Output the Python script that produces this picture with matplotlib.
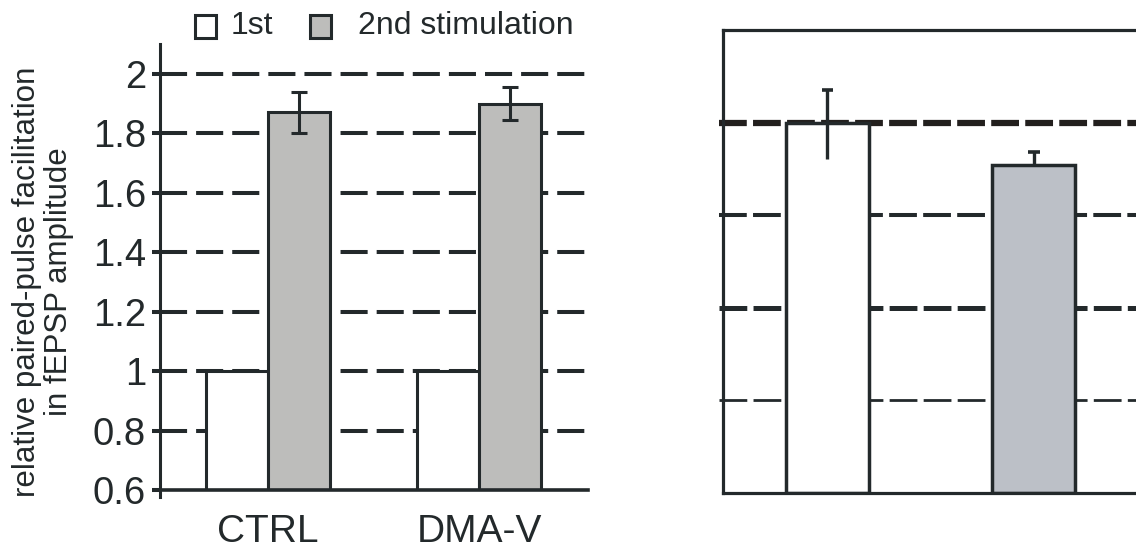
import numpy as np
import matplotlib
matplotlib.use("Agg")
import matplotlib.pyplot as plt
from matplotlib.patches import Rectangle

plt.rcParams['font.family'] = ['Liberation Sans', 'DejaVu Sans']
plt.rcParams['lines.scale_dashes'] = False

# ---- data ----
groups = ["CTRL", "DMA-V"]
first_stim = [1.0, 1.0]
second_stim = [1.87, 1.90]
second_err = [0.07, 0.055]
y_ticks = [0.6, 0.8, 1.0, 1.2, 1.4, 1.6, 1.8, 2.0]
y_ticklabels = ["0.6", "0.8", "1", "1.2", "1.4", "1.6", "1.8", "2"]
legend_labels = ["1st", "2nd stimulation"]
ylabel_lines = ["relative paired-pulse facilitation", "in fEPSP amplitude"]

right_values = [4.0, 3.54]
right_err_low = [0.39, 0.0]
right_err_high = [0.35, 0.14]
right_grid = [1, 2, 3, 4]
right_grid_lw = [2.0, 3.6, 2.9, 4.5]

DARK = "#23292b"
GRAY_L = "#bdbdbb"
GRAY_R = "#bcc0c7"

W, H = 1136, 556
fig = plt.figure(figsize=(W / 100, H / 100), dpi=100)

# ---------------- left panel ----------------
axL = fig.add_axes([160 / W, 1 - 490 / H, 428 / W, 440 / H])
axL.set_xlim(-0.512, 1.517)
axL.set_ylim(0.6, 2.08)
x = np.arange(len(groups))
bw = 0.294
base = 0.6
for yv in y_ticks[1:]:
    axL.axhline(yv, color=DARK, lw=2.9, linestyle=(0, (19.5, 6.5)), zorder=1)
axL.bar(x - bw / 2, np.array(first_stim) - base, bw, bottom=base, color="white",
        edgecolor=DARK, lw=2.2, zorder=2)
axL.bar(x + bw / 2, np.array(second_stim) - base, bw, bottom=base, color=GRAY_L,
        edgecolor=DARK, lw=2.2, zorder=2)
axL.errorbar(x + bw / 2, second_stim, yerr=second_err, fmt="none", ecolor=DARK,
             elinewidth=2.2, capsize=5.5, capthick=2.2, zorder=3)
axL.set_yticks(y_ticks)
axL.set_yticklabels(y_ticklabels, fontsize=27.5, color=DARK)
axL.tick_params(axis="y", length=6, width=2.9, color=DARK, pad=4)
axL.set_xticks(x)
axL.set_xticklabels(groups, fontsize=28, color=DARK)
axL.tick_params(axis="x", length=0, pad=17)
for s in ["top", "right"]:
    axL.spines[s].set_visible(False)
axL.spines["left"].set_linewidth(2.2)
axL.spines["left"].set_color(DARK)
axL.spines["left"].set_bounds(0.575, 2.1)
axL.spines["bottom"].set_linewidth(2.6)
axL.spines["bottom"].set_color(DARK)
axL.spines["bottom"].set_zorder(4)

# y label: two rotated lines
fig.text(27 / W, 1 - 282 / H, ylabel_lines[0], fontsize=22.5, color=DARK,
         rotation=90, ha="center", va="center")
fig.text(59 / W, 1 - 282 / H, ylabel_lines[1], fontsize=22.5, color=DARK,
         rotation=90, ha="center", va="center")

# legend (manual)
fig.add_artist(Rectangle((195 / W, 1 - 38 / H), 21 / W, 23 / H, transform=fig.transFigure,
                         facecolor="white", edgecolor=DARK, lw=2.2))
fig.text(231 / W, 1 - 26 / H, legend_labels[0], fontsize=23, color=DARK, va="center", ha="left")
fig.add_artist(Rectangle((310 / W, 1 - 38 / H), 21 / W, 23 / H, transform=fig.transFigure,
                         facecolor=GRAY_L, edgecolor=DARK, lw=2.2))
fig.text(358 / W, 1 - 26 / H, legend_labels[1], fontsize=23, color=DARK, va="center", ha="left")

# ---------------- right panel ----------------
axR = fig.add_axes([723 / W, 1 - 493 / H, 440 / W, 463 / H])
axR.set_xlim(-0.506, 1.625)
axR.set_ylim(0, 5)
xr = np.arange(len(right_values))
bwr = 0.402
for yv, lw in zip(right_grid, right_grid_lw):
    axR.axhline(yv, xmin=-0.008, color="#221f1d" if yv == 4 else DARK, lw=lw,
                linestyle=(0, (20, 4.5)), zorder=1, clip_on=False)
axR.bar(xr, right_values, bwr, color=["white", GRAY_R], edgecolor=DARK, lw=2.5, zorder=2)
vr = np.array(right_values)
lo = np.array(right_err_low)
hi = np.array(right_err_high)
axR.vlines(xr, vr - lo, vr + hi, color=DARK, lw=2.4, zorder=3)
axR.hlines(vr + hi, xr - 0.028, xr + 0.028, color=DARK, lw=2.6, zorder=3)
axR.set_xticks([])
axR.set_yticks([])
axR.spines["right"].set_visible(False)
for s in ["left", "top", "bottom"]:
    axR.spines[s].set_linewidth(2.3)
    axR.spines[s].set_color(DARK)
axR.spines["bottom"].set_zorder(4)

fig.savefig("out.png", dpi=100)
